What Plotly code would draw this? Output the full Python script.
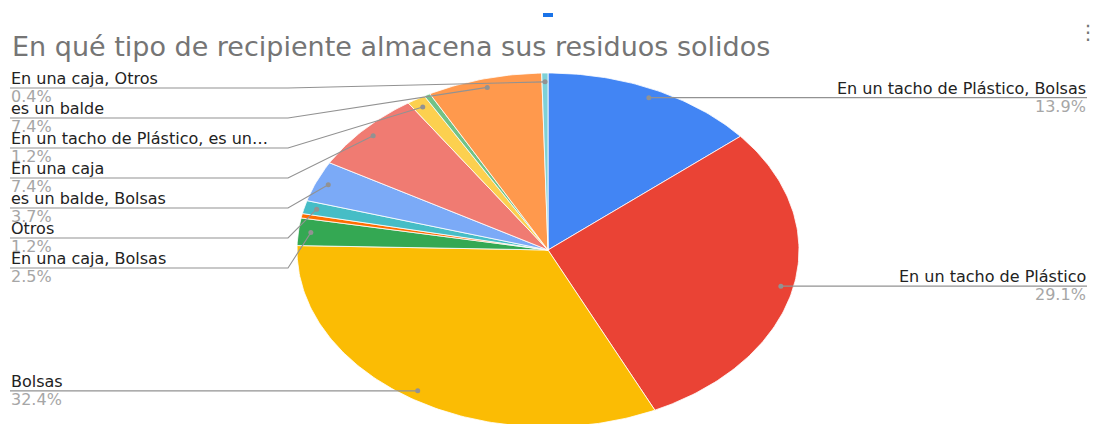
import numpy as np
import plotly.graph_objects as go

# ---------------- data ----------------
categories = [
    "En un tacho de Plástico, Bolsas",
    "En un tacho de Plástico",
    "Bolsas",
    "En una caja, Bolsas",
    "es un balde, Otros",
    "Otros",
    "es un balde, Bolsas",
    "En una caja",
    "En un tacho de Plástico, es un balde",
    "En un tacho de Plástico, Otros",
    "es un balde",
    "En una caja, Otros",
]
shown_labels = [
    "En un tacho de Plástico, Bolsas",
    "En un tacho de Plástico",
    "Bolsas",
    "En una caja, Bolsas",
    None,
    "Otros",
    "es un balde, Bolsas",
    "En una caja",
    "En un tacho de Plástico, es un…",
    None,
    "es un balde",
    "En una caja, Otros",
]
percent = [13.9, 29.1, 32.4, 2.5, 0.4, 1.2, 3.7, 7.4, 1.2, 0.4, 7.4, 0.4]
title_text = "En qué tipo de recipiente almacena sus residuos solidos"

# ---------------- styles / layout ----------------
colors = ["#4285F4", "#EA4335", "#FBBC04", "#34A853", "#FF6D01", "#46BDC6",
          "#7BAAF7", "#F07B72", "#FCD04F", "#71C287", "#FF994D", "#7ED1D7"]
W, H = 1101, 424
CX, CY, RX, RY = 548, 250, 251, 177      # pie centre and radii (pixels)
DOT_R = 0.95
LEFT_X, RIGHT_X, ELBOW_X = 10, 1087, 288
# stacked label slots (pixel y of the leader line) on the left side
slot_y = [None, None, None, 268, None, 238, 208, 178, 148, None, 118, 88]
FONT = "DejaVu Sans"
LBL_SIZE = 16
NAME_COLOR = "#222222"
PCT_COLOR = "#A6A6A6"
LINE_COLOR = "#929292"

vals = np.array(percent, dtype=float)
frac = vals / vals.sum()
ends = np.cumsum(frac) * 2 * np.pi
starts = ends - frac * 2 * np.pi

def pt(theta, r=1.0):
    return CX + RX * r * np.sin(theta), CY - RY * r * np.cos(theta)

fig = go.Figure()

# slices
for i, cat in enumerate(categories):
    n = max(4, int(frac[i] * 400))
    th = np.linspace(starts[i], ends[i], n)
    ax, ay = pt(th)
    xs = np.concatenate([[CX], ax, [CX]])
    ys = np.concatenate([[CY], ay, [CY]])
    fig.add_trace(go.Scatter(
        x=xs, y=ys, mode="lines", fill="toself", fillcolor=colors[i],
        line=dict(color="white", width=0.8), name=cat,
        hoveron="fills", text=f"{cat}: {percent[i]}%", hoverinfo="text",
        showlegend=False))

# leader lines, dots, labels
lx, ly, dx, dy = [], [], [], []
annotations = []
for i, lab in enumerate(shown_labels):
    if lab is None:
        continue
    mid = (starts[i] + ends[i]) / 2
    px, py = pt(mid, DOT_R)
    dx.append(px); dy.append(py)
    right = np.sin(mid) > 0
    if right:
        line_y = py
        lx += [px, RIGHT_X, None]; ly += [py, line_y, None]
        tx, anchor = RIGHT_X, "right"
    else:
        if slot_y[i] is not None:
            line_y = slot_y[i]
            lx += [px, ELBOW_X, LEFT_X, None]; ly += [py, line_y, line_y, None]
        else:
            line_y = py
            lx += [px, LEFT_X, None]; ly += [py, line_y, None]
        tx, anchor = LEFT_X, "left"
    annotations.append(dict(x=tx, y=line_y - 9.5, xref="x", yref="y", text=lab,
                            showarrow=False, xanchor=anchor, yanchor="middle",
                            borderpad=0,
                            font=dict(family=FONT, size=LBL_SIZE, color=NAME_COLOR)))
    annotations.append(dict(x=tx, y=line_y + 8.5, xref="x", yref="y",
                            text=f"{percent[i]:.1f}%",
                            showarrow=False, xanchor=anchor, yanchor="middle",
                            borderpad=0,
                            font=dict(family=FONT, size=LBL_SIZE, color=PCT_COLOR)))

fig.add_trace(go.Scatter(x=lx, y=ly, mode="lines", line=dict(color=LINE_COLOR, width=1.1),
                         hoverinfo="skip", showlegend=False))
fig.add_trace(go.Scatter(x=dx, y=dy, mode="markers", marker=dict(color=LINE_COLOR, size=5),
                         hoverinfo="skip", showlegend=False))

# title and chrome
annotations.append(dict(x=LEFT_X, y=46, xref="x", yref="y", text=title_text, showarrow=False,
                        xanchor="left", yanchor="middle",
                        font=dict(family=FONT, size=27, color="#757575")))
annotations.append(dict(x=1099, y=32, xref="x", yref="y", text="⋮", showarrow=False,
                        xanchor="right", yanchor="middle", borderpad=0,
                        font=dict(family=FONT, size=20, color="#757575")))

fig.update_layout(
    width=W, height=H, margin=dict(l=0, r=0, t=0, b=0),
    paper_bgcolor="white", plot_bgcolor="white",
    xaxis=dict(range=[0, W], visible=False, fixedrange=True),
    yaxis=dict(range=[H, 0], visible=False, fixedrange=True),
    annotations=annotations,
    shapes=[dict(type="rect", xref="x", yref="y", x0=543, x1=553, y0=13, y1=17,
                 fillcolor="#1A73E8", line=dict(width=0))],
)

fig.write_html("out.html", config={"displayModeBar": False},
               post_script="document.body.style.margin='0';")
